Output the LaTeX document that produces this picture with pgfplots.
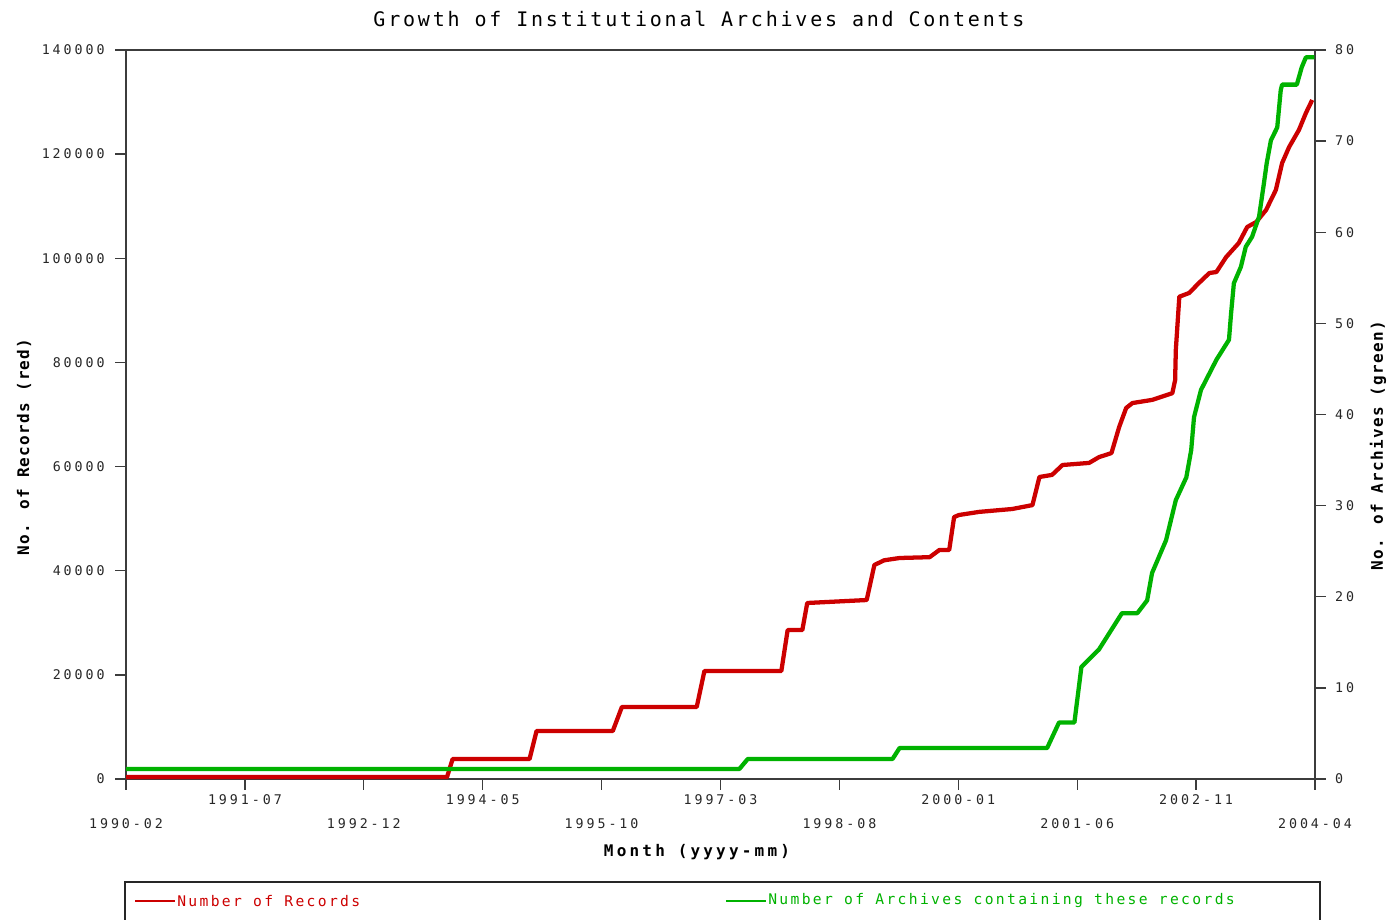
\documentclass[border=0pt]{standalone}
\usepackage{fontspec}
\usepackage{pgfplots}
\pgfplotsset{compat=1.18}
\setmainfont{DejaVu Sans Mono}
\newfontfamily\tickf[LetterSpace=22]{DejaVu Sans Mono}
\newfontfamily\legf[LetterSpace=16]{DejaVu Sans Mono}
\newfontfamily\titlef[LetterSpace=14]{DejaVu Sans Mono}
\newfontfamily\labf[LetterSpace=20]{DejaVu Sans Mono}
\newfontfamily\ylabf[LetterSpace=8]{DejaVu Sans Mono}
\definecolor{myred}{RGB}{204,0,0}
\definecolor{mygreen}{RGB}{0,178,0}
\definecolor{axgray}{RGB}{60,60,60}
\begin{document}
\begin{tikzpicture}[x=0.75pt,y=0.75pt]
\useasboundingbox (0,0) rectangle (1392,920);
\pgfplotsset{
  common/.style={
    at={(94.5pt,105.75pt)}, anchor=south west,
    scale only axis, width=891.75pt, height=546.75pt,
    xmin=0, xmax=170,
    axis line style={axgray, line width=1.3pt},
    tick style={axgray, line width=1pt},
    tick align=outside, major tick length=8pt,
    tick label style={font=\tickf\fontsize{10}{12}\selectfont, text=black!85},
    /pgf/number format/assume math mode=true,
    /pgf/number format/fixed,
    /pgf/number format/precision=0,
    /pgf/number format/1000 sep={},
    scaled ticks=false,
    clip=false,
  }
}
\begin{axis}[common,
  ymin=0, ymax=140000,
  ytick={0,20000,40000,60000,80000,100000,120000,140000},
  ytick pos=left,
  xtick pos=bottom,
  yticklabel style={xshift=-4.5pt},
  xtick={17,51,85,119,153},
  xticklabels={1991-07,1994-05,1997-03,2000-01,2002-11},
  extra x ticks={0,34,68,102,136,170},
  extra x tick labels={1990-02,1992-12,1995-10,1998-08,2001-06,2004-04},
  extra x tick style={tick label style={yshift=-18pt}},
]
\addplot[myred, line width=3.2pt, line join=round] coordinates {
(0,380) (45.9,380) (46.7,3840) (57.7,3840) (58.7,9220) (69.6,9220)
(70.9,13830) (81.6,13830) (82.7,20740) (93.7,20740) (94.6,28600)
(96.7,28600) (97.4,33800) (105.9,34370) (107.0,41100) (108.4,42000)
(110.6,42440) (114.9,42600) (116.3,43980) (117.7,43980) (118.4,50300)
(119.1,50700) (122.0,51300) (126.7,51850) (129.6,52600) (130.6,58000)
(132.4,58400) (133.9,60300) (137.7,60700) (139.1,61800) (140.9,62600)
(142.0,67600) (143.0,71250) (143.9,72200) (146.7,72800) (149.6,74100)
(150.0,76600) (150.1,82400) (150.6,92620) (152.0,93330) (153.4,95250)
(154.9,97170) (155.9,97360) (157.3,100240) (159.1,102930) (160.3,106000)
(161.6,106970) (163.0,109270) (164.4,113110) (165.3,118300) (166.3,121370)
(167.7,124640) (168.7,127900) (169.6,130400)
};
\end{axis}
\begin{axis}[common,
  ymin=0, ymax=80,
  ytick={0,10,20,30,40,50,60,70,80},
  axis y line*=right,
  axis x line=none,
  yticklabel style={xshift=3.5pt},
]
\addplot[mygreen, line width=3.2pt, line join=round] coordinates {
(0,1.1) (87.7,1.1) (88.9,2.2) (109.6,2.2) (110.6,3.4) (131.7,3.4)
(133.4,6.2) (135.6,6.2) (136.6,12.3) (139.1,14.2) (142.4,18.2) (144.6,18.2)
(146.0,19.6) (146.7,22.6) (148.7,26.2) (150.1,30.6) (151.6,33.1)
(152.3,36.1) (152.7,39.7) (153.7,42.7) (155.9,46.0) (157.7,48.2)
(158.0,51.1) (158.4,54.4) (159.4,56.2) (160.1,58.4) (161.0,59.5)
(162.0,61.7) (162.7,65.4) (163.1,67.6) (163.7,70.1) (164.6,71.5)
(165.1,75.6) (165.3,76.2) (167.4,76.2) (168.1,78.1) (168.7,79.2) (169.9,79.2)
};
\end{axis}
% titles and labels
\node[font=\titlef\fontsize{15}{18}\selectfont] at (699,901) {Growth of Institutional Archives and Contents};
\node[font=\ylabf\bfseries\fontsize{12}{14}\selectfont, rotate=90] at (24,473) {No. of Records (red)};
\node[font=\ylabf\bfseries\fontsize{12}{14}\selectfont, rotate=90] at (1378,474) {No. of Archives (green)};
\node[font=\labf\bfseries\fontsize{12}{14}\selectfont] at (697,68) {Month (yyyy-mm)};
% legend
\draw[black!85, line width=1.2pt] (125,-20) -- (125,38) -- (1320,38) -- (1320,-20);
\draw[myred, line width=1pt] (135,19) -- (175,19);
\node[anchor=west, text=myred, font=\legf\fontsize{11}{13}\selectfont, inner sep=0pt] at (177,19) {Number of Records};
\draw[mygreen, line width=1pt] (726,19) -- (766,19);
\node[anchor=west, text=mygreen, font=\legf\fontsize{11}{13}\selectfont, inner sep=0pt] at (768,19) {Number of Archives containing these records};
\end{tikzpicture}
\end{document}
